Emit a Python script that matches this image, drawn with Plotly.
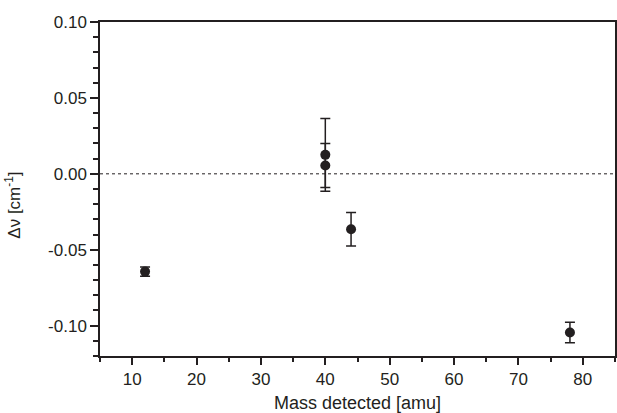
import plotly.graph_objects as go

mass = [12, 40, 40, 44, 78]
dnu = [-0.0644, 0.0125, 0.0055, -0.0365, -0.1045]
err = [0.003, 0.024, 0.0145, 0.011, 0.0067]

ytickvals = [0.10, 0.05, 0.00, -0.05, -0.10]
yticktext = ["0.10", "0.05", "0.00", "-0.05", "-0.10"]
xtickvals = [10, 20, 30, 40, 50, 60, 70, 80]

font = "Liberation Sans, Arial, Helvetica, sans-serif"
dark = "#231f20"

fig = go.Figure()
fig.add_trace(go.Scatter(
    x=mass, y=dnu, mode="markers",
    marker=dict(size=10, color=dark),
    error_y=dict(type="data", array=err, visible=True, color=dark, thickness=1.5, width=5),
    showlegend=False,
))
fig.add_shape(type="line", xref="paper", yref="y", x0=0, x1=1, y0=0, y1=0,
              line=dict(color=dark, width=1, dash="dot"), layer="below")

fig.update_layout(
    width=617, height=413,
    margin=dict(l=100, r=2, t=22, b=57),
    paper_bgcolor="white", plot_bgcolor="white",
    font=dict(family=font, size=17, color=dark),
)
fig.update_xaxes(
    range=[5, 85], tickvals=xtickvals, ticks="outside", ticklen=7, tickwidth=1.5,
    tickcolor=dark, showline=True, linecolor=dark, linewidth=1.5, mirror=True,
    showgrid=False, zeroline=False, automargin=False,
    minor=dict(tickvals=[5, 15, 25, 35, 45, 55, 65, 75, 85], ticks="outside", ticklen=4, tickwidth=1.5, tickcolor=dark),
    title=dict(text="Mass detected [amu]", standoff=9, font=dict(size=18)),
    tickfont=dict(size=17),
)
fig.update_yaxes(
    range=[-0.12, 0.10], tickvals=ytickvals, ticktext=yticktext, ticks="outside",
    ticklen=8, tickwidth=1.5, tickcolor=dark, showline=True, linecolor=dark,
    linewidth=1.5, mirror=True, showgrid=False, zeroline=False, automargin=False,
    minor=dict(dtick=0.01, ticks="outside", ticklen=5, tickwidth=1.5, tickcolor=dark),
    tickfont=dict(size=17),
)
fig.add_annotation(text="Δν [cm<sup>-1</sup>]", xref="paper", yref="paper",
                   x=-100/515, y=0.45, xanchor="left", yanchor="middle",
                   textangle=-90, showarrow=False, font=dict(size=17, color=dark))

fig.write_html("out.html", config={"displayModeBar": False},
               post_script="document.body.style.margin='0';document.body.style.overflow='hidden';")
